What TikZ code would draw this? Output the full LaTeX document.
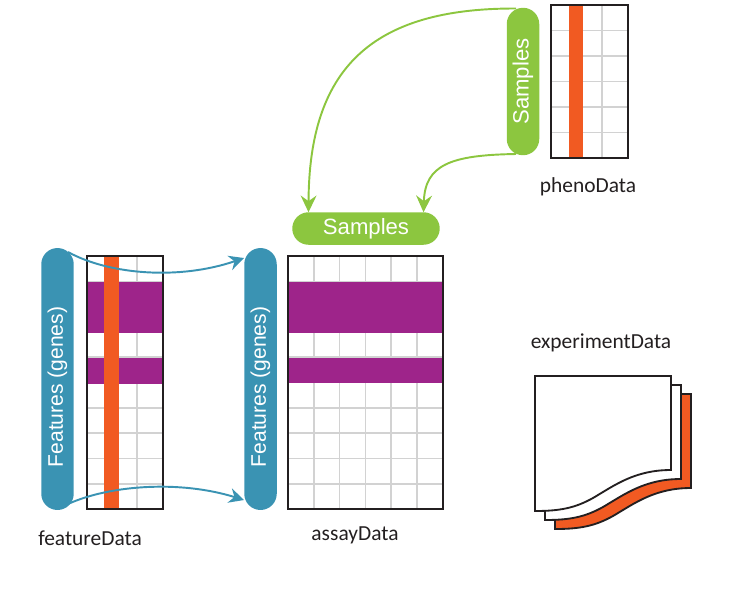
\documentclass[tikz,border=0pt]{standalone}
\usepackage{fontspec}
\setmainfont{Liberation Sans}
\newfontfamily\labelfont{Carlito}
\usetikzlibrary{ arrows.meta,  % For the filled arrow tips
                 shapes.misc,  % For the pill shapes
               }
\definecolor{featblue}{HTML}{3A93B3}
\definecolor{sampgreen}{HTML}{8CC63F}
\definecolor{rowpurple}{HTML}{9E248A}
\definecolor{colorange}{HTML}{F15A22}
\definecolor{gridgray}{HTML}{D2D2D2}
\definecolor{inkdark}{HTML}{231F20}
\tikzstyle{pill} = [rounded rectangle, inner sep=0, outer sep=0, text=white, minimum height=0.65cm]
\tikzstyle{featurepill} = [pill, fill=featblue, rotate=90, minimum width=5.24cm, font=\fontsize{12}{14}\selectfont]
\tikzstyle{samplepill} = [pill, fill=sampgreen, minimum width=2.95cm, font=\fontsize{12.6}{15}\selectfont]
\tikzstyle{tablelabel} = [text=inkdark, font=\labelfont\fontsize{12.2}{15}\selectfont]
\tikzstyle{gridline} = [gridgray, line width=0.9pt]
\tikzstyle{frame} = [inkdark, line width=1.05pt]
\tikzstyle{bluearrow} = [featblue, line width=1.1pt, -{Stealth[length=8.5pt, width=8.5pt, inset=2.8pt]}]
\tikzstyle{greenarrow} = [sampgreen, line width=1.1pt, -{Stealth[length=9.5pt, width=9pt, inset=3.2pt]}]

\begin{document}
\begin{tikzpicture}[x=0.02cm, y=-0.02cm]
  \useasboundingbox (0, 0) rectangle (750, 600);

  % featureData table
  \foreach \r in {1,...,9} \draw[gridline] (87, {256+25.3*\r}) -- (163, {256+25.3*\r});
  \draw[gridline] (137, 256) -- (137, 509);
  \fill[rowpurple] (87, 282) rectangle (163, 333);
  \fill[rowpurple] (87, 358) rectangle (163, 384);
  \fill[colorange] (104, 256) rectangle (119, 509);
  \draw[frame] (87, 256) rectangle (163, 509);

  % assayData table
  \foreach \r in {1,...,9} \draw[gridline] (288, {256+25.3*\r}) -- (443, {256+25.3*\r});
  \foreach \c in {1,...,5} \draw[gridline] ({288+25.8*\c}, 256) -- ({288+25.8*\c}, 509);
  \fill[rowpurple] (288, 282) rectangle (443, 333);
  \fill[rowpurple] (288, 358) rectangle (443, 383);
  \draw[frame] (288, 256) rectangle (443, 509);

  % phenoData table
  \foreach \r in {1,...,5} \draw[gridline] (551, {5+25.5*\r}) -- (628, {5+25.5*\r});
  \draw[gridline] (602, 5) -- (602, 158);
  \fill[colorange] (569, 5) rectangle (583, 158);
  \draw[frame] (551, 5) rectangle (628, 158);

  % experimentData sheets
  \foreach \d/\col in {20/colorange, 10/white, 0/white} {
    \begin{scope}[shift={(\d, 0.9*\d)}]
      \draw[frame, fill=\col] (535, 376) -- (671, 376) -- (671, 470)
        .. controls (635, 470) and (615, 485) .. (593, 498)
        .. controls (575, 508) and (560, 511) .. (535, 511) -- cycle;
    \end{scope}
  }

  \node (featL) [featurepill] at (57.5, 379) {Features (genes)\kern0.32cm};
  \node (featR) [featurepill] at (260.5, 379) {Features (genes)\kern0.32cm};
  \node (sampV) [samplepill, rotate=90] at (523, 81.5) {Samples};
  \node (sampH) [samplepill] at (366, 228.5) {Samples};

  \node (featLabel) [tablelabel] at (90, 538) {featureData};
  \node (assayLabel) [tablelabel] at (355, 535) {assayData};
  \node (phenoLabel) [tablelabel] at (588, 187) {phenoData};
  \node (expLabel) [tablelabel] at (601, 343) {experimentData};

  \coordinate (featLtop) at (68, 252);
  \coordinate (featLbot) at (68, 504);
  \coordinate (featRtop) at (244, 258);
  \coordinate (featRbot) at (244, 500);
  \coordinate (sampVtop) at (516, 8.5);
  \coordinate (sampVbot) at (516, 154);

  \draw[bluearrow] (featLtop) .. controls (110, 275) and (180, 280) .. (featRtop);
  \draw[bluearrow] (featLbot) .. controls (110, 485) and (180, 480) .. (featRbot);
  \draw[greenarrow] (sampVtop) .. controls (370, 8) and (309, 70) .. (sampH.north west);
  \draw[greenarrow] (sampVbot) .. controls (450, 155) and (425, 165) .. (sampH.north east);
\end{tikzpicture}
\end{document}
